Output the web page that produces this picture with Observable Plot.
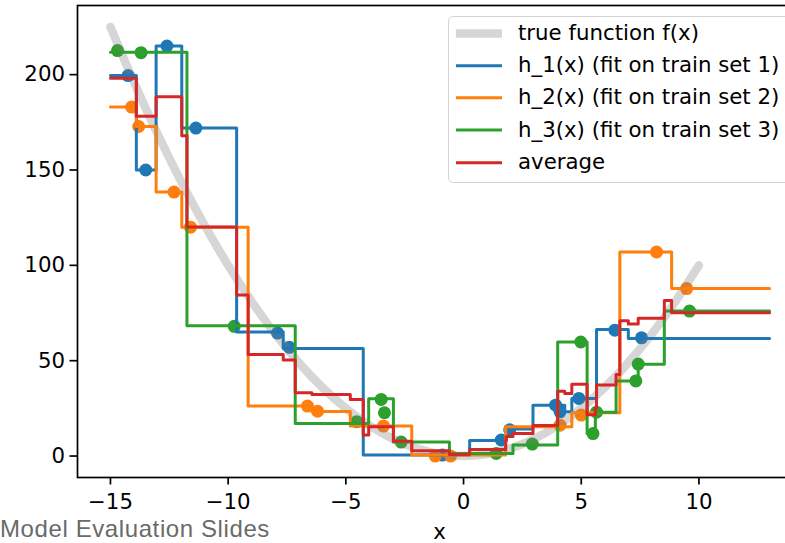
<!DOCTYPE html>
<html>
<head>
<meta charset="utf-8">
<script src="https://cdn.jsdelivr.net/npm/d3@7"></script>
<script src="https://cdn.jsdelivr.net/npm/@observablehq/plot@0.6"></script>
<style>
  html, body { margin: 0; padding: 0; background: #fff; overflow: hidden; }
  #wrap { position: relative; width: 785px; height: 543px; overflow: hidden; background: #fff;
          font-family: "DejaVu Sans", sans-serif; }
  #chart { position: absolute; left: 0; top: 0; }
  #chart svg { max-width: none !important; }
  #legendBox { position: absolute; left: 448px; top: 16px; width: 360px; height: 165px;
               border: 1.5px solid #d4d4d4; border-radius: 5px; background: rgba(255,255,255,0.8); }
  .lg { position: absolute; left: 518px; font-size: 21.3px; line-height: 21.3px; white-space: nowrap; color: #000; }
  #swatches { position: absolute; left: 0; top: 0; }
  #xlabel { position: absolute; left: 429.5px; width: 20px; text-align: center; top: 520.5px;
            font-size: 21.3px; line-height: 21.3px; color: #000; }
  #caption { position: absolute; left: 0px; top: 517px; font-family: "Liberation Sans", Arial, sans-serif;
             font-size: 24px; line-height: 24px; letter-spacing: 0.6px; color: #6a6a6a; white-space: nowrap; }
</style>
</head>
<body>
<div id="wrap">
  <div id="chart"></div>
  <div id="legendBox"></div>
  <svg id="swatches" width="785" height="200"></svg>
  <div id="legendText"></div>
  <div id="xlabel">x</div>
  <div id="caption">Model Evaluation Slides</div>
</div>
<script>
// ---------- data ----------
const xTicks = [-15, -10, -5, 0, 5, 10];
const yTicks = [0, 50, 100, 150, 200];

// true function f(x)
const trueX = [-15, -14, -13, -12, -11, -10, -9, -8, -7, -6, -5, -4, -3, -2, -1, 0, 1, 2, 3, 4, 5, 6, 7, 8, 9, 10];
const trueY = [225, 196, 169, 144, 121, 100, 81, 64, 49, 36, 25, 16, 9, 4, 1, 0, 1, 4, 9, 16, 25, 36, 49, 64, 81, 100];

// h_1(x): segment edges and levels
const h1Edges  = [-15, -13.9, -13.06, -11.97, -9.64, -7.66, -4.26, 0.26, 1.81, 2.95, 4.3, 4.6, 5.65, 7.0, 13];
const h1Levels = [199.5, 150, 215, 172, 65, 56.4, 0.5, 8.2, 14.2, 26.7, 23.2, 30.2, 66.3, 61.6];

// h_2(x)
const h2Edges  = [-15, -13.9, -13.06, -11.97, -9.15, -6.44, -4.81, -2.2, 1.79, 4.6, 6.64, 8.84, 13];
const h2Levels = [183, 172.8, 138.4, 120, 26.2, 23.3, 15.7, 0.5, 15.4, 22.7, 107, 87.8];

// h_3(x)
const h3Edges  = [-15, -11.75, -7.15, -4.03, -2.98, -0.6, 2.1, 4.0, 5.25, 5.6, 6.48, 7.42, 8.53, 13];
const h3Levels = [211.8, 68.3, 17.1, 30, 7.3, 1.4, 5.8, 59.8, 11.8, 23.0, 39.4, 48.2, 76];

// average
const avgEdges  = [-15, -13.9, -13.06, -11.97, -11.75, -9.64, -9.15, -7.66, -7.15, -6.44, -4.81, -4.26, -4.03, -2.98, -2.2, -0.6, 0.26, 1.79, 1.81, 2.1, 2.95, 4.0, 4.3, 4.6, 5.25, 5.6, 5.65, 6.48, 6.64, 7.0, 7.42, 8.53, 8.84, 13];
const avgLevels = [198.1, 178.2, 188.4, 167.9, 120.1, 84.4, 53.2, 50.3, 33.2, 32.3, 29.7, 11.1, 15.4, 7.8, 2.8, 0.8, 3.4, 8.3, 10.3, 11.8, 16.0, 34.0, 32.8, 37.6, 21.6, 25.3, 37.3, 42.8, 70.9, 69.3, 72.3, 81.5, 75.1];

// training points
const set1X = [-14.25, -13.5, -12.6, -11.37, -7.9, -7.4, -0.9, 1.6, 1.96, 3.91, 4.1, 4.9, 6.43, 7.56];
const set1Y = [199.5, 150, 215, 172, 64.5, 57, 0.5, 8.4, 13.8, 26.7, 23.2, 30.2, 66, 62];
const set2X = [-14.1, -13.8, -12.3, -11.6, -6.63, -6.2, -3.4, -1.2, -0.55, 4.1, 5.0, 8.2, 9.48];
const set2Y = [183, 172.8, 138.4, 120, 26.2, 23.5, 15.7, 0, 0, 16.2, 21.5, 107, 87.8];
const set3X = [-14.7, -13.7, -9.74, -4.54, -3.5, -3.36, -2.65, 1.39, 2.92, 4.98, 5.5, 5.65, 7.32, 7.42, 9.6];
const set3Y = [212.6, 211.5, 68, 18, 29.7, 22.7, 7.3, 1.4, 6.3, 59.8, 11.8, 23, 39.4, 48.2, 76];

const legendLabels = ["true function f(x)", "h_1(x) (fit on train set 1)", "h_2(x) (fit on train set 2)", "h_3(x) (fit on train set 3)", "average"];
const colors = { h1: "#1f77b4", h2: "#ff7f0e", h3: "#2ca02c", avg: "#d62728" };

// ---------- build tables ----------
function stepTable(edges, levels) {
  const rows = levels.map((v, i) => ({ x: edges[i], y: v }));
  rows.push({ x: edges[edges.length - 1], y: levels[levels.length - 1] });
  return rows;
}
function pts(xs, ys) { return xs.map((x, i) => ({ x, y: ys[i] })); }
const trueRows = pts(trueX, trueY);

const fmt = d3.format("d");
const chart = Plot.plot({
  width: 802,
  height: 543,
  marginLeft: 77,
  marginRight: 0,
  marginTop: 5,
  marginBottom: 66,
  x: { domain: [-16.4, 14.4] },
  y: { domain: [-11.25, 236.25] },
  style: { fontFamily: "DejaVu Sans", fontSize: "21.3px", color: "#000", background: "transparent", overflow: "visible" },
  marks: [
    Plot.dot(pts(set1X, set1Y), { x: "x", y: "y", r: 6.5, fill: colors.h1 }),
    Plot.dot(pts(set2X, set2Y), { x: "x", y: "y", r: 6.5, fill: colors.h2 }),
    Plot.dot(pts(set3X, set3Y), { x: "x", y: "y", r: 6.5, fill: colors.h3 }),
    Plot.line(trueRows, { x: "x", y: "y", stroke: "#808080", strokeOpacity: 0.32, strokeWidth: 8.5, curve: "catmull-rom" }),
    Plot.line(stepTable(h1Edges, h1Levels), { x: "x", y: "y", curve: "step-after", stroke: colors.h1, strokeWidth: 3 }),
    Plot.line(stepTable(h2Edges, h2Levels), { x: "x", y: "y", curve: "step-after", stroke: colors.h2, strokeWidth: 3 }),
    Plot.line(stepTable(h3Edges, h3Levels), { x: "x", y: "y", curve: "step-after", stroke: colors.h3, strokeWidth: 3 }),
    Plot.line(stepTable(avgEdges, avgLevels), { x: "x", y: "y", curve: "step-after", stroke: colors.avg, strokeWidth: 3 }),
    Plot.frame({ stroke: "#000", strokeWidth: 1.7 }),
    Plot.axisX(xTicks, { tickSize: 7.5, tickPadding: 9, strokeWidth: 1.7, tickFormat: fmt, label: null, fontSize: 21.3 }),
    Plot.axisY(yTicks, { tickSize: 7.5, tickPadding: 5, strokeWidth: 1.7, tickFormat: fmt, label: null, fontSize: 21.3 })
  ]
});
chart.style.maxWidth = "none";
document.getElementById("chart").appendChild(chart);

// ---------- legend ----------
const rowCenters = [33.5, 65.7, 97.7, 130, 162.7];
const swatchColors = ["#808080", colors.h1, colors.h2, colors.h3, colors.avg];
const sw = d3.select("#swatches");
legendLabels.forEach((lab, i) => {
  sw.append("line")
    .attr("x1", 456).attr("x2", 502)
    .attr("y1", rowCenters[i]).attr("y2", rowCenters[i])
    .attr("stroke", swatchColors[i])
    .attr("stroke-opacity", i === 0 ? 0.32 : 1)
    .attr("stroke-width", i === 0 ? 8.5 : 3);
  const d = document.createElement("div");
  d.className = "lg";
  d.style.top = (rowCenters[i] - 11.3) + "px";
  d.textContent = lab;
  document.getElementById("legendText").appendChild(d);
});
</script>
</body>
</html>
